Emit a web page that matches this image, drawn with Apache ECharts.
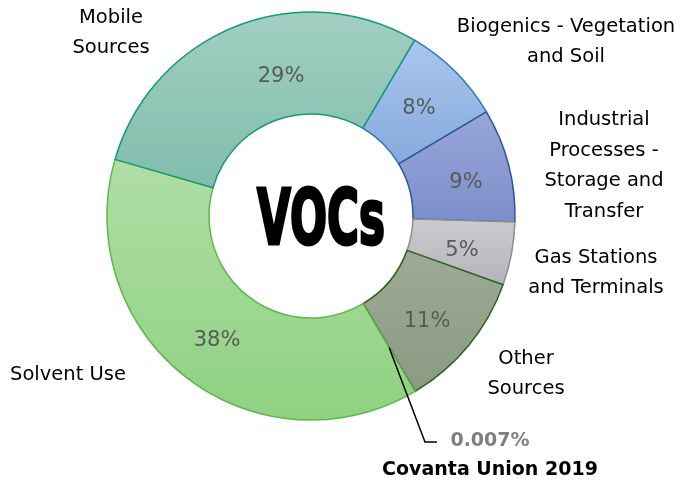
<!DOCTYPE html>
<html lang="en">
<head>
<meta charset="UTF-8">
<title>VOCs</title>
<script src="https://cdn.jsdelivr.net/npm/echarts@6/dist/echarts.min.js"></script>
</head>
<body style="margin:0;background:#fff">
<div id="main" style="width:683px;height:482px;"></div>
<script>
// slices clockwise from the top-right
var names = ['Biogenics - Vegetation\nand Soil', 'Industrial\nProcesses -\nStorage and\nTransfer',
  'Gas Stations\nand Terminals', 'Other\nSources', 'Covanta Union 2019', 'Solvent Use', 'Mobile\nSources'];
var shares = [8, 9, 5, 11, 0.007, 38, 29];
var callout = 4; // the tiny slice with the leader line

// fill top, fill bottom, border
var colors = [
  ['#a9c6ee', '#86a9dc', '#2e75b6'],
  ['#98a7d9', '#7c8eca', '#2f5597'],
  ['#cbcbcf', '#b3b3b9', '#8c8c92'],
  ['#9eab97', '#8a9a82', '#2f621f'],
  ['#555555', '#555555', '#333333'],
  ['#b0dea6', '#8fd181', '#5cb84a'],
  ['#a2cfc2', '#80bcab', '#17987a']
];

// label anchor positions (layout only)
var pctPos = [[419, 109], [466, 183], [462, 251], [427, 322], null, [217, 341], [281, 77]];
var namePos = [[566, 42], [604, 166], [596, 273], [526, 374], [490, 456], [68, 375], [111, 33]];

var cx = 311, cy = 216, r0 = 102, r1 = 204;
var startDeg = 30.5; // clockwise from 12 o'clock
var font = '"DejaVu Sans", sans-serif';

var myChart = echarts.init(document.getElementById('main'));

var sliceData = shares.map(function (v, i) {
  return {
    name: names[i],
    value: v,
    label: { show: i !== callout },
    itemStyle: {
      color: new echarts.graphic.LinearGradient(0, 0, 0, 1, [
        { offset: 0, color: colors[i][0] },
        { offset: 1, color: colors[i][1] }
      ]),
      borderColor: colors[i][2],
      borderWidth: 1.5
    }
  };
});

var nameData = shares.map(function (v, i) {
  return { name: names[i], value: v, label: { show: i !== callout } };
});

var calloutData = shares.map(function (v, i) {
  return { name: names[i], value: v, label: { show: i === callout }, labelLine: { show: i === callout } };
});

var hidden = {
  type: 'pie',
  center: [cx, cy],
  startAngle: 90 - startDeg,
  clockwise: true,
  silent: true,
  z: 5,
  avoidLabelOverlap: false,
  emphasis: { disabled: true },
  itemStyle: { color: 'rgba(0,0,0,0)', borderWidth: 0 }
};

option = {
  animation: false,
  backgroundColor: '#fff',
  graphic: [{
    type: 'text',
    x: 321,
    y: cy + 8,
    scaleX: 0.63,
    style: {
      text: 'VOCs',
      font: 'bold 77px "DejaVu Sans Condensed", sans-serif',
      textAlign: 'center',
      textVerticalAlign: 'middle',
      fill: '#000',
      stroke: '#000',
      lineWidth: 3
    }
  }],
  series: [{
    type: 'pie',
    center: [cx, cy],
    radius: [r0, r1],
    startAngle: 90 - startDeg,
    clockwise: true,
    avoidLabelOverlap: false,
    emphasis: { disabled: true },
    label: {
      position: 'inside',
      formatter: '{c}%',
      fontFamily: font,
      fontSize: 21,
      color: '#595959'
    },
    labelLayout: function (p) {
      var pos = pctPos[p.dataIndex];
      if (!pos) return {};
      return { x: pos[0], y: pos[1], align: 'center', verticalAlign: 'middle' };
    },
    data: sliceData
  }, echarts.util.extend({
    radius: [r0, r1],
    label: {
      position: 'outside',
      fontFamily: font,
      fontSize: 19.5,
      lineHeight: 30.5,
      color: '#000',
      align: 'center'
    },
    labelLine: { show: false },
    labelLayout: function (p) {
      var pos = namePos[p.dataIndex];
      return { x: pos[0], y: pos[1], align: 'center', verticalAlign: 'middle' };
    },
    data: nameData
  }, hidden), echarts.util.extend({
    // outer edge at mid-ring so the leader starts inside the ring
    radius: [0, (r0 + r1) / 2],
    label: {
      position: 'outside',
      align: 'center',
      formatter: function (p) {
        return '{p|' + p.value + '%}\n{n|' + p.name + '}';
      },
      rich: {
        p: { fontFamily: font, fontSize: 19, fontWeight: 'bold', color: '#7f7f7f', lineHeight: 29, align: 'center' },
        n: { fontFamily: font, fontSize: 19, fontWeight: 'bold', color: '#000', lineHeight: 29, align: 'center' }
      }
    },
    labelLine: {
      show: false,
      lineStyle: { color: '#000', width: 1.5 }
    },
    labelLayout: function (p) {
      var pos = namePos[p.dataIndex];
      var res = { x: pos[0], y: pos[1], align: 'center', verticalAlign: 'middle' };
      if (p.labelLinePoints) {
        var yEnd = pos[1] - 14;
        res.labelLinePoints = [p.labelLinePoints[0], [pos[0] - 65, yEnd], [pos[0] - 53, yEnd]];
      }
      return res;
    },
    data: calloutData
  }, hidden)]
};
myChart.setOption(option);
</script>
</body>
</html>
